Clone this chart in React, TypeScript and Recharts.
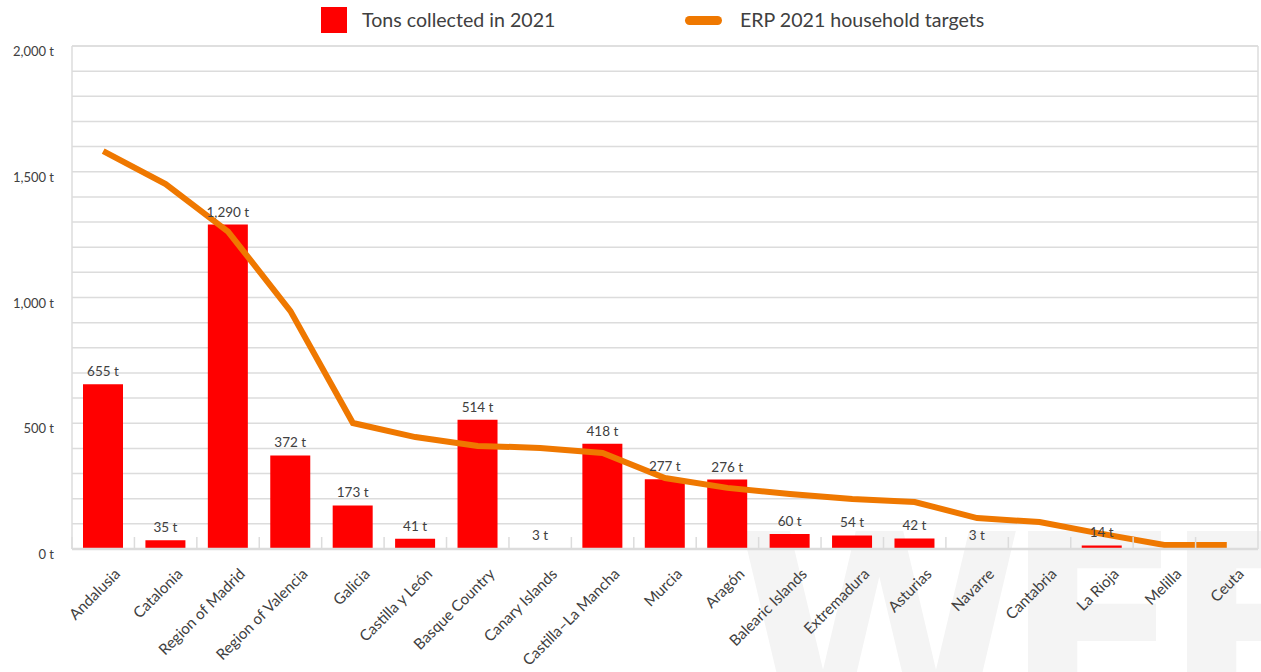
import {
  ComposedChart,
  Bar,
  Line,
  XAxis,
  YAxis,
  CartesianGrid,
  LabelList,
  ReferenceLine,
} from "recharts"

const regions = [
  "Andalusia",
  "Catalonia",
  "Region of Madrid",
  "Region of Valencia",
  "Galicia",
  "Castilla y León",
  "Basque Country",
  "Canary Islands",
  "Castilla–La Mancha",
  "Murcia",
  "Aragón",
  "Balearic Islands",
  "Extremadura",
  "Asturias",
  "Navarre",
  "Cantabria",
  "La Rioja",
  "Melilla",
  "Ceuta",
]

const collected = [655, 35, 1290, 372, 173, 41, 514, 3, 418, 277, 276, 60, 54, 42, 3, 0, 14, 0, 0]

const targets = [1582, 1451, 1262, 946, 501, 445, 410, 402, 382, 282, 243, 219, 199, 187, 123, 107, 60, 16, 16]

// gridlines every 100 t, labels every 500 t
const yTicks = [
  0, 100, 200, 300, 400, 500, 600, 700, 800, 900, 1000,
  1100, 1200, 1300, 1400, 1500, 1600, 1700, 1800, 1900, 2000,
]

const data = regions.map((region, i) => ({
  region,
  collected: collected[i],
  target: targets[i],
}))

const W = 1261
const H = 672
const FONT = "Lato, 'Open Sans', sans-serif"
const TEXT = "#404040"
const GRID = "#dcdcdc"
const RED = "#FF0000"
const ORANGE = "#EF7800"

const fmt = (v: number) => `${v.toLocaleString("en-US")} t`

function ValueTick({ x, y, payload }: any) {
  if (payload.value % 500 !== 0) return null
  return (
    <text
      x={x - 18}
      y={y + 5}
      textAnchor="end"
      dominantBaseline="central"
      fontSize={13}
      fontFamily={FONT}
      fill={TEXT}
    >
      {fmt(payload.value)}
    </text>
  )
}

function RegionTick({ x, y, payload }: any) {
  const half = payload.offset ?? 31
  return (
    <g>
      <line x1={x - half} x2={x - half} y1={y - 12} y2={y} stroke={GRID} strokeWidth={1.5} />
      <text
        transform={`translate(${x + 18},${y + 26}) rotate(-45)`}
        textAnchor="end"
        fontSize={15.2}
        fontFamily={FONT}
        fill={TEXT}
      >
        {payload.value}
      </text>
    </g>
  )
}

function BarValue({ x, y, width, value }: any) {
  return (
    <text
      x={x + width / 2}
      y={y - 8}
      textAnchor="middle"
      fontSize={13.5}
      fontFamily={FONT}
      fill={TEXT}
    >
      {fmt(Number(value))}
    </text>
  )
}

function Legend() {
  return (
    <div
      style={{
        position: "absolute",
        left: 0,
        top: 0,
        width: W,
        height: 40,
        fontFamily: FONT,
        fontSize: 19.6,
        color: TEXT,
      }}
    >
      <div style={{ position: "absolute", left: 321, top: 7, width: 26, height: 26, background: RED }} />
      <div style={{ position: "absolute", left: 362, top: 7, lineHeight: "26px" }}>Tons collected in 2021</div>
      <div
        style={{
          position: "absolute",
          left: 685,
          top: 16,
          width: 37,
          height: 9,
          borderRadius: 5,
          background: ORANGE,
        }}
      />
      <div style={{ position: "absolute", left: 740, top: 7, lineHeight: "26px" }}>ERP 2021 household targets</div>
    </div>
  )
}

function Watermark() {
  return (
    <svg width={W} height={H} style={{ position: "absolute", left: 0, top: 0 }}>
      <g fill="#f4f4f4" fontFamily="'DejaVu Sans', sans-serif" fontWeight="bold" fontSize={262}>
        <text x={735} y={722}>W</text>
        <text x={1004} y={722}>E</text>
        <text x={1163} y={722}>F</text>
      </g>
    </svg>
  )
}

export default function App() {
  return (
    <div style={{ position: "absolute", left: 0, top: 0, width: W, height: H, overflow: "hidden", background: "#fff" }}>
      <Watermark />
      <div style={{ position: "absolute", left: 0, top: 0 }}>
        <ComposedChart
          width={W}
          height={H}
          data={data}
          margin={{ top: 46, right: 0, left: 0, bottom: 0 }}
          barCategoryGap={0}
        >
          <CartesianGrid vertical={false} stroke={GRID} strokeWidth={1.5} />
          <ReferenceLine y={2000} stroke={GRID} strokeWidth={1.5} />
          <XAxis
            dataKey="region"
            height={123}
            interval={0}
            tickLine={false}
            tickSize={0}
            tickMargin={0}
            axisLine={{ stroke: GRID, strokeWidth: 2.5 }}
            tick={<RegionTick />}
          />
          <YAxis
            width={72}
            domain={[0, 2000]}
            ticks={yTicks}
            interval={0}
            tickLine={false}
            tickSize={0}
            tickMargin={0}
            axisLine={{ stroke: GRID, strokeWidth: 1.5 }}
            tick={<ValueTick />}
          />
          <YAxis
            yAxisId="right"
            orientation="right"
            width={3}
            domain={[0, 2000]}
            tick={false}
            tickLine={false}
            axisLine={{ stroke: GRID, strokeWidth: 1.5 }}
          />
          <Bar dataKey="collected" fill={RED} barSize={40} isAnimationActive={false}>
            <LabelList dataKey="collected" content={<BarValue />} />
          </Bar>
          <Line
            dataKey="target"
            stroke={ORANGE}
            strokeWidth={6}
            dot={false}
            activeDot={false}
            isAnimationActive={false}
          />
        </ComposedChart>
      </div>
      <Legend />
    </div>
  )
}
